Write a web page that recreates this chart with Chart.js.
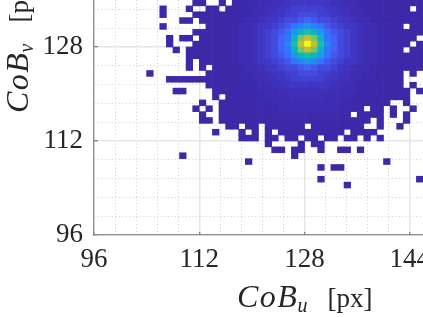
<!DOCTYPE html>
<html>
<head>
<meta charset="utf-8">
<style>html,body{margin:0;padding:0;background:#fff;overflow:hidden}canvas{display:block}</style>
<script src="https://cdn.jsdelivr.net/npm/chart.js@4"></script>
</head>
<body>
<canvas id="c" width="423" height="317"></canvas>
<script>
const xTicks = [96,99.2,102.4,105.6,108.8,112,115.2,118.4,121.6,124.8,128,131.2,134.4,137.6,140.8,144];
const yTicks = [96,99.2,102.4,105.6,108.8,112,115.2,118.4,121.6,124.8,128,131.2,134.4];
const majorTicks = [96,112,128,144];
const xLabelParts = ["CoB","u","[px]"];
const yLabelParts = ["CoB","v","[px]"];
const firstU = 96;
const firstV = 135;
const levelColors = {a:"#3D28A8",b:"#3D29AC",c:"#3E2CB2",d:"#3F30BA",e:"#4036C4",f:"#4240D0",g:"#434BDF",h:"#4456EC",i:"#4363F8",j:"#2F76FC",k:"#2686F4",l:"#1C97E6",m:"#17A5DA",n:"#0DB3C4",o:"#1DBBA8",p:"#3BC38B",q:"#70C866",r:"#A0C24A",s:"#C8BC30",t:"#F9FB15"};
// one string per v bin (from v=135 downward), one character per u bin (from u=96); "." is an empty bin
const rowLevels = [
"...............aa..a.a"+"bbbccddeeeeeeeddccbbb"+"aaaaaaa",
"..........a...a..aa.aa"+"bbccddeefffffeeddccbb"+"aaaaa.a",
"..........a....aaaaaaa"+"bbccdeeffgggffeedccbb"+"aaaaaaa",
".............aa.aaaaaa"+"bccdeefgghihggfeedccb"+"aaaaaaa",
"..........a......aaaaa"+"ccdeefghjklkjhgfeedcc"+"bbaa.aa",
"...............aaaaaab"+"ccdefghjlnonljhgfedcc"+"bbaaaaa",
"...........a.aa.aaaaab"+"ccdefgijnqsqnjigfedcc"+"bbaaaa.",
"...........a...aaaaabb"+"ccdefgikostsokigfedcc"+"bbaaa.a",
"............a.aaaaaaab"+"ccdefgijnqsqnjigfedcc"+"bbaa.aa",
"..............aaaaaaab"+"ccdefghjlnonljhgfedcc"+"bbaaaaa",
"..............a.aaaaab"+"ccdeefghjklkjhgfeedcc"+"bbaaaaa",
"..............a.a.aaaa"+"bccdeefgghihggfeedccb"+"aaaaaaa",
"........a........aaaaa"+"bbccdeeffgggffeedccbb"+"aaaa.a.",
"...........aaaaaaaaaaa"+"bbccddeefffffeeddccbb"+"aaaa...",
".................aaaaa"+"bbbccddeeeeeeeddccbbb"+"aaaa.a.",
"............aa....aaaa"+"bbbcccdddddddddcccbbb"+"aaaaa.a",
"..................a.aa"+"bbbbccccdddddccccbbbb"+"aaaaa..",
"................a..aaa"+"abbbbcccccccccccbbbba"+"aa..a..",
"...............a.a.aaa"+"aabbbbcccccccccbbbb.a"+"a.a..a.",
"................a..aaa"+"aaabbbbbbbbbbbbbb.aaa"+"a.a.a..",
"................aa.aaa"+"aaaabbbbbbbbbbbbbaaa."+"a...a..",
"....................aa"+".aa.aaaaaa.aaaaaaaa.."+"a..a...",
"..................a..."+"a.a.a.aaaaaaaaaa.aaaa"+".......",
"......................"+"aaa.aa.aa.aa.aa.aa.a."+"a......",
"......................"+"....a....a.aa........"+".......",
"......................"+".....aa.aa..a..aa.a.."+".......",
".............a........"+"........a............"+".......",
"......................"+".a..................."+".a.....",
"......................"+"............a.aa....."+".......",
"......................"+"....................."+".......",
"......................"+"............a........"+"......a",
"......................"+"................a...."+"......."
];

const cells = [];
rowLevels.forEach((row, r) => {
  [...row].forEach((ch, k) => {
    if (ch !== ".") cells.push({x: firstU + k + 0.5, y: [firstV - r, firstV - r + 1], level: ch});
  });
});

const isMajor = v => majorTicks.includes(v);
const scaleCommon = {
  ticks: {
    autoSkip: false, maxRotation: 0, minRotation: 0,
    color: "#262626",
    font: {family: "'Liberation Serif'", size: 27},
    callback: v => isMajor(v) ? String(v) : ""
  },
  grid: {
    offset: false, drawTicks: true,
    color: c => isMajor(c.tick.value) ? "#e6e6e6" : "#cfcfcf",
    lineWidth: c => isMajor(c.tick.value) ? 1.5 : 1,
    tickColor: c => isMajor(c.tick.value) ? "#666666" : "rgba(0,0,0,0)",
    tickWidth: 1
  },
  border: {
    display: true, color: "#8c8c8c", width: 1.3,
    dash: c => (c.tick && !isMajor(c.tick.value)) ? [1, 2.5] : []
  }
};
const zeroPad = s => { s.paddingLeft = s.paddingRight = s.paddingTop = s.paddingBottom = 0; };

const axisTitles = {
  id: "axisTitles",
  afterDraw(chart) {
    const {ctx} = chart;
    const drawParts = (parts) => {
      ctx.fillStyle = "#262626";
      ctx.textAlign = "left";
      ctx.textBaseline = "alphabetic";
      ctx.letterSpacing = "1.5px";
      ctx.font = "italic 32px 'Liberation Serif'";
      ctx.fillText(parts[0], 0, 0);
      let x = ctx.measureText(parts[0]).width;
      ctx.letterSpacing = "0px";
      ctx.font = "italic 20px 'Liberation Serif'";
      ctx.fillText(parts[1], x - 1, 5);
      ctx.font = "27px 'Liberation Serif'";
      ctx.fillText(parts[2], 90.5, 0);
    };
    ctx.save();
    ctx.translate(237, 307);
    drawParts(xLabelParts);
    ctx.restore();
    ctx.save();
    ctx.translate(28, 113);
    ctx.rotate(-Math.PI / 2);
    drawParts(yLabelParts);
    ctx.restore();
  }
};

new Chart(document.getElementById("c"), {
  type: "bar",
  data: {
    datasets: [{
      data: cells,
      backgroundColor: c => c.raw ? levelColors[c.raw.level] : "#3D28A8",
      borderWidth: 0,
      barPercentage: 1,
      categoryPercentage: 1,
      inflateAmount: 0.33
    }]
  },
  plugins: [axisTitles],
  options: {
    responsive: false,
    animation: false,
    layout: {padding: 0},
    plugins: {legend: {display: false}, tooltip: {enabled: false}, title: {display: false}},
    scales: {
      x: {
        ...scaleCommon,
        type: "linear", position: "bottom", min: 96, max: 146, offset: false,
        afterBuildTicks: s => { s.ticks = xTicks.map(value => ({value})); },
        afterFit: s => { s.height = 82; zeroPad(s); },
        grid: {...scaleCommon.grid, tickLength: -3},
        ticks: {...scaleCommon.ticks, padding: 12}
      },
      y: {
        ...scaleCommon,
        type: "linear", position: "left", min: 96, max: 136,
        afterBuildTicks: s => { s.ticks = yTicks.map(value => ({value})); },
        afterFit: s => { s.width = 94; zeroPad(s); },
        grid: {...scaleCommon.grid, tickLength: -4},
        ticks: {...scaleCommon.ticks, padding: 15}
      }
    }
  }
});
</script>
</body>
</html>
